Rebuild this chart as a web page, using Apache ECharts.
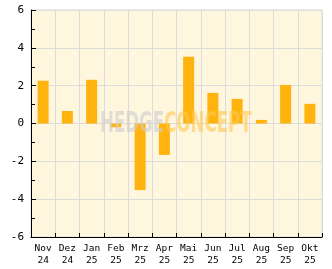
<!DOCTYPE html>
<html><head><meta charset="utf-8">
<script src="https://cdn.jsdelivr.net/npm/echarts@6/dist/echarts.min.js"></script>
<style>html,body{margin:0;padding:0;background:#fff}#c{width:332px;height:269px}</style>
</head><body><div id="c"></div>
<script>
const months = ['Nov','Dez','Jan','Feb','Mrz','Apr','Mai','Jun','Jul','Aug','Sep','Okt'];
const years = ['24','24','25','25','25','25','25','25','25','25','25','25'];
const values = [2.26, 0.66, 2.31, -0.2, -3.52, -1.66, 3.53, 1.62, 1.30, 0.19, 2.04, 1.04];
const yTicks = [-6, -4, -2, 0, 2, 4, 6];
const categories = months.map((m, i) => m + '\n' + years[i]);

const chart = echarts.init(document.getElementById('c'), null, {renderer: 'canvas'});
chart.setOption({
  animation: false,
  backgroundColor: '#ffffff',
  grid: {left: 31, right: 10, top: 10, bottom: 32, show: true, backgroundColor: '#fff6de', borderColor: '#dcdcdc', borderWidth: 1},
  xAxis: {
    type: 'category', data: categories, boundaryGap: true,
    axisLine: {onZero: false, lineStyle: {color: '#000', width: 1}},
    axisTick: {show: true, inside: true, length: 4, lineStyle: {color: '#000'}},
    splitLine: {show: true, lineStyle: {color: '#dcdcdc', width: 1}},
    axisLabel: {color: '#000', fontFamily: 'DejaVu Sans Mono', fontSize: 9.5, lineHeight: 12, margin: 6, interval: 0}
  },
  yAxis: {
    type: 'value', min: yTicks[0], max: yTicks[yTicks.length - 1], interval: 2,
    axisLine: {show: true, lineStyle: {color: '#000', width: 1}},
    axisTick: {show: true, inside: true, length: 5, lineStyle: {color: '#000'}},
    minorTick: {show: true, splitNumber: 2, length: 4, lineStyle: {color: '#000'}},
    splitLine: {show: true, lineStyle: {color: '#dcdcdc', width: 1}},
    axisLabel: {color: '#000', fontFamily: 'DejaVu Sans Mono', fontSize: 11, margin: 7,
      formatter: v => String(v)}
  },
  series: [{
    type: 'bar', data: values, barWidth: 11,
    itemStyle: {color: '#ffb30f'}
  }],
  graphic: [{
    type: 'text', z: 100, x: 100, y: 111, scaleX: 0.74, scaleY: 1.12,
    style: {
      rich: {
        h: {fill: 'rgba(205,205,205,0.6)', font: 'bold 25px "DejaVu Sans Condensed", sans-serif'},
        c: {fill: 'rgba(255,200,80,0.6)', font: 'bold 25px "DejaVu Sans Condensed", sans-serif'}
      },
      text: '{h|HEDGE}{c|CONCEPT}'
    }
  }]
});
</script></body></html>
